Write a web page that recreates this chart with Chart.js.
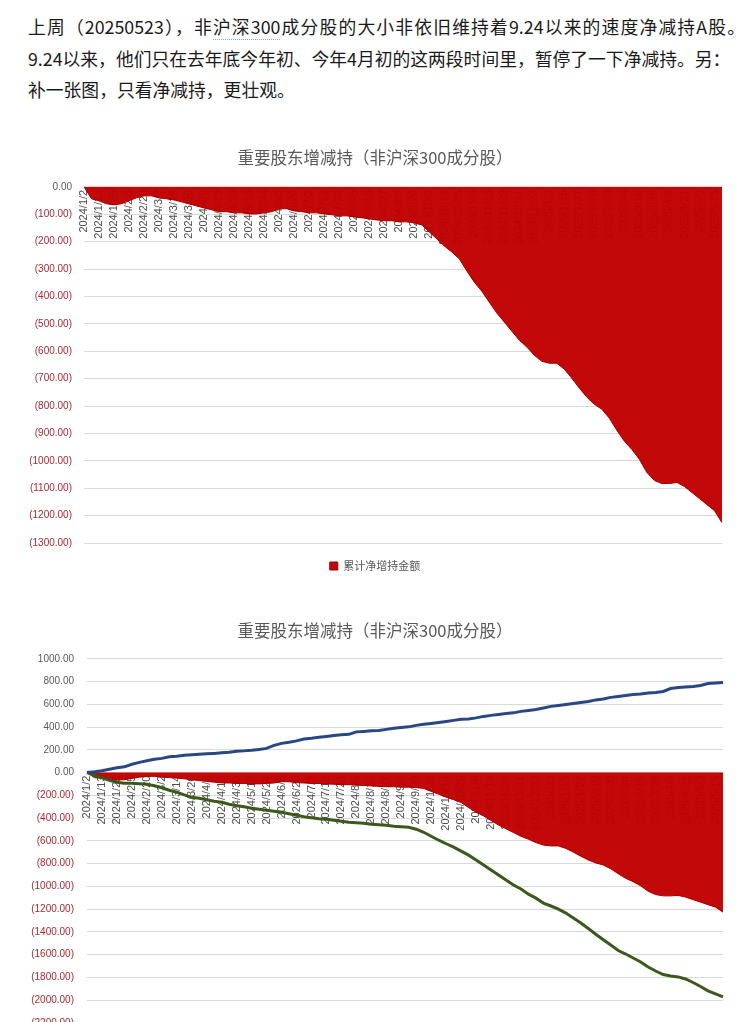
<!DOCTYPE html>
<html>
<head>
<meta charset="utf-8">
<script src="https://cdn.jsdelivr.net/npm/chart.js@4"></script>
<style>
  html, body { margin: 0; padding: 0; background: #fff; width: 750px; height: 1022px; overflow: hidden; }
  .txt {
    position: absolute; left: 28px; top: 11px; width: 717px;
    font-family: "Noto Sans CJK SC", sans-serif; font-size: 17.8px; line-height: 31.5px;
    color: #1a1a1a; white-space: nowrap;
  }
  .txt .just { text-align: justify; text-align-last: justify; text-justify: inter-character; }
  .dot { border-bottom: 1px dotted #8aa4c8; }
  #box1 { position: absolute; left: 0; top: 130px; width: 750px; height: 455px; }
  #box2 { position: absolute; left: 0; top: 600px; width: 750px; height: 460px; }
</style>
</head>
<body>
<div class="txt">
  <div class="just">上周（20250523），非<span class="dot">沪深300</span>成分股的大小非依旧维持着9.24以来的速度净减持A股。</div>
  <div>9.24以来，他们只在去年底今年初、今年4月初的这两段时间里，暂停了一下净减持。另：</div>
  <div>补一张图，只看净减持，更壮观。</div>
</div>
<div id="box1"><canvas id="c1"></canvas></div>
<div id="box2"><canvas id="c2"></canvas></div>
<script>
const chartTitle = '重要股东增减持（非沪深300成分股）';

const dates = [
  '2024/1/2','2024/1/8','2024/1/13','2024/1/19','2024/1/25','2024/1/31','2024/2/5','2024/2/8','2024/2/20','2024/2/26',
  '2024/3/2','2024/3/8','2024/3/14','2024/3/20','2024/3/26','2024/4/1','2024/4/8','2024/4/13','2024/4/19','2024/4/25',
  '2024/4/30','2024/5/7','2024/5/13','2024/5/18','2024/5/24','2024/5/30','2024/6/5','2024/6/13','2024/6/20','2024/6/26',
  '2024/7/2','2024/7/7','2024/7/12','2024/7/18','2024/7/24','2024/7/30','2024/8/5','2024/8/10','2024/8/15','2024/8/21',
  '2024/8/27','2024/9/3','2024/9/9','2024/9/14','2024/9/20','2024/9/26','2024/10/8','2024/10/11','2024/10/14','2024/10/19',
  '2024/10/25','2024/10/31','2024/11/6','2024/11/12','2024/11/18','2024/11/23','2024/11/29','2024/12/5','2024/12/11','2024/12/17',
  '2024/12/23','2024/12/28','2025/1/3','2025/1/9','2025/1/15','2025/1/21','2025/1/27','2025/2/5','2025/2/10','2025/2/15',
  '2025/2/20','2025/2/26','2025/3/4','2025/3/10','2025/3/16','2025/3/22','2025/3/28','2025/4/3','2025/4/9','2025/4/15',
  '2025/4/21','2025/4/27','2025/5/3','2025/5/9','2025/5/15','2025/5/23'
];

// 累计净增持金额
const netValues = [
  0, -44, -51, -62, -66, -62, -51, -40, -33, -33,
  -40, -44, -48, -55, -62, -70, -77, -84, -91, -91,
  -95, -95, -99, -99, -95, -91, -80, -80, -88, -91,
  -95, -95, -99, -102, -106, -106, -110, -113, -117, -121,
  -124, -124, -128, -128, -132, -139, -165, -190, -216, -238,
  -263, -307, -348, -381, -421, -461, -494, -527, -560, -585,
  -615, -637, -644, -644, -666, -699, -735, -768, -794, -812,
  -845, -889, -929, -959, -995, -1043, -1072, -1083, -1083, -1079,
  -1094, -1116, -1138, -1160, -1182, -1226
];

// 累计增持金额
const buyValues = [
  0, 7, 16, 29, 42, 51, 73, 90, 104, 117,
  125, 139, 143, 152, 156, 161, 165, 169, 174, 178,
  187, 191, 196, 204, 213, 239, 257, 266, 279, 296,
  301, 310, 318, 327, 332, 336, 358, 362, 367, 371,
  380, 389, 397, 402, 415, 424, 432, 441, 450, 459,
  468, 472, 481, 494, 503, 511, 520, 525, 538, 546,
  555, 568, 582, 590, 599, 608, 617, 625, 639, 647,
  661, 669, 678, 687, 691, 700, 704, 713, 739, 748,
  753, 757, 766, 783, 788, 792
];

// 累计减持金额
const sellValues = [
  0, -24, -46, -68, -85, -94, -94, -98, -103, -116,
  -133, -155, -173, -195, -217, -225, -239, -252, -261, -278,
  -291, -300, -313, -322, -331, -339, -348, -361, -375, -388,
  -396, -405, -410, -418, -427, -436, -440, -445, -454, -458,
  -463, -471, -475, -480, -497, -524, -559, -594, -625, -655,
  -690, -725, -768, -812, -856, -900, -944, -988, -1023, -1068,
  -1103, -1146, -1172, -1199, -1234, -1278, -1322, -1370, -1420, -1468,
  -1515, -1563, -1594, -1629, -1664, -1708, -1743, -1774, -1787, -1795,
  -1813, -1844, -1879, -1918, -1945, -1971
];

Chart.defaults.font.family = '"Liberation Sans", Arial, sans-serif';
Chart.defaults.color = '#595959';

const CJK = '"Noto Sans CJK SC", sans-serif';
const RED = 'rgba(192,0,0,0.97)';

function fmtVal(v) {
  return v < 0 ? '(' + (-v).toFixed(2) + ')' : v.toFixed(2);
}

function netArea() {
  return {
    label: '累计净增持金额',
    data: netValues,
    backgroundColor: RED,
    borderColor: '#9e0000',
    borderWidth: 1,
    fill: 'origin',
    pointRadius: 0,
    tension: 0,
    order: 3
  };
}

function buildOptions(o) {
  return {
    responsive: true,
    maintainAspectRatio: false,
    animation: false,
    layout: { padding: { left: 0, right: 0, top: 0, bottom: o.padBottom } },
    plugins: {
      title: {
        display: true,
        text: chartTitle,
        color: '#595959',
        font: { family: CJK, size: 16.5, weight: 'normal' },
        padding: o.titlePad
      },
      legend: o.legend ? {
        display: true,
        position: 'bottom',
        labels: {
          boxWidth: 8, boxHeight: 8, padding: 17.5, color: '#595959',
          font: { family: CJK, size: 11 }
        }
      } : { display: false },
      tooltip: { enabled: false }
    },
    scales: {
      x: {
        type: 'category',
        position: { y: 0 },
        grid: { display: false, drawTicks: false },
        border: { display: false },
        ticks: {
          autoSkip: false, minRotation: 90, maxRotation: 90, padding: 3,
          font: { size: 11 }, color: '#4d4d4d',
          callback: function (v, i) { return i % 2 === 0 ? this.getLabelForValue(v) : ''; }
        },
        afterFit: s => { s.height = 0; }
      },
      y: {
        min: o.min, max: o.max,
        grid: { color: '#d9d9d9', drawTicks: false },
        border: { display: false },
        ticks: {
          stepSize: o.step, maxTicksLimit: 30, padding: o.tickPad,
          font: { size: 10 },
          color: c => (c.tick && c.tick.value < 0) ? '#a82a30' : '#595959',
          callback: v => fmtVal(v)
        },
        afterFit: s => { s.width = o.leftWidth; }
      },
      yR: {
        position: 'right',
        grid: { display: false },
        border: { display: false },
        ticks: { display: false },
        afterFit: s => { s.width = o.rightWidth; }
      }
    }
  };
}

new Chart(document.getElementById('c1'), {
  type: 'line',
  data: { labels: dates, datasets: [netArea()] },
  options: buildOptions({
    min: -1300, max: 0, step: 100, tickPad: 12, leftWidth: 84, rightWidth: 28,
    titlePad: { top: 18, bottom: 19 }, padBottom: 3.5, legend: true
  })
});

new Chart(document.getElementById('c2'), {
  type: 'line',
  data: {
    labels: dates,
    datasets: [
      {
        label: '累计增持金额', data: buyValues, borderColor: '#284784', borderWidth: 3,
        pointRadius: 0, tension: 0, fill: false, order: 1
      },
      {
        label: '累计减持金额', data: sellValues, borderColor: '#3a5a1c', borderWidth: 3,
        pointRadius: 0, tension: 0, fill: false, order: 2
      },
      netArea()
    ]
  },
  options: buildOptions({
    min: -2200, max: 1000, step: 200, tickPad: 13, leftWidth: 87, rightWidth: 27,
    titlePad: { top: 21, bottom: 18 }, padBottom: 37, legend: false
  })
});
</script>
</body>
</html>
